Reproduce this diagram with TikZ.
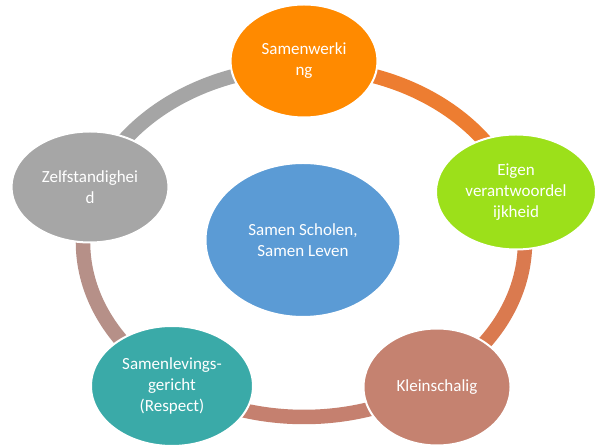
\documentclass[tikz,border=0pt]{standalone}
\usepackage{fontspec}
\setmainfont{Carlito}
\usetikzlibrary{shapes.geometric}
\definecolor{cOrange}{HTML}{FF8A00}
\definecolor{cGreen}{HTML}{9CE01A}
\definecolor{cKlein}{HTML}{C58270}
\definecolor{cTeal}{HTML}{3AAAA8}
\definecolor{cGray}{HTML}{A6A6A6}
\definecolor{cBlue}{HTML}{5B9BD5}
\definecolor{rGray}{HTML}{A5A5A5}
\definecolor{rOrange}{HTML}{ED7D31}
\definecolor{rRight}{HTML}{DA7A4F}
\definecolor{rBottom}{HTML}{C5806F}
\definecolor{rLeft}{HTML}{B69088}
\tikzset{
  blob/.style={ellipse, draw=white, line width=2pt, text=white, align=center,
    font=\fontsize{17}{21}\selectfont, inner sep=0pt},
  ring/.style={line width=14.5pt}
}
\begin{document}
\begin{tikzpicture}[x=1pt,y=1pt]
\useasboundingbox (0,0) rectangle (596,446);
\fill[white] (0,0) rectangle (596,446);
\coordinate (rc) at (304,204);
% ring segments
\draw[ring, rGray]   ([shift={(90:221 and 175)}]rc)  arc[start angle=90,  end angle=162, x radius=221, y radius=175];
\draw[ring, rLeft]   ([shift={(162:221 and 175)}]rc) arc[start angle=162, end angle=234, x radius=221, y radius=175];
\draw[ring, rBottom] ([shift={(234:221 and 175)}]rc) arc[start angle=234, end angle=306, x radius=221, y radius=175];
\draw[ring, rRight]  ([shift={(306:221 and 175)}]rc) arc[start angle=306, end angle=378, x radius=221, y radius=175];
\draw[ring, rOrange] ([shift={(18:221 and 175)}]rc)  arc[start angle=18,  end angle=90,  x radius=221, y radius=175];
% nodes
\node[blob, fill=cBlue, minimum width=195pt, minimum height=154pt] (center) at (303,206) {Samen Scholen,\\Samen Leven};
\node[blob, fill=cOrange, minimum width=147pt, minimum height=113pt] (samen) at (304,385) {Samenwerki\\ng};
\node[blob, fill=cGreen, minimum width=160pt, minimum height=115pt] (eigen) at (516,254) {Eigen\\verantwoordel\\ijkheid};
\node[blob, fill=cKlein, minimum width=147pt, minimum height=117pt] (klein) at (437,59) {Kleinschalig};
\node[blob, fill=cTeal, minimum width=162pt, minimum height=120pt] (teal) at (172,60) {Samenlevings-\\gericht\\(Respect)};
\node[blob, fill=cGray, minimum width=157pt, minimum height=111pt] (zelf) at (90,259) {Zelfstandighei\\d};
\end{tikzpicture}
\end{document}
